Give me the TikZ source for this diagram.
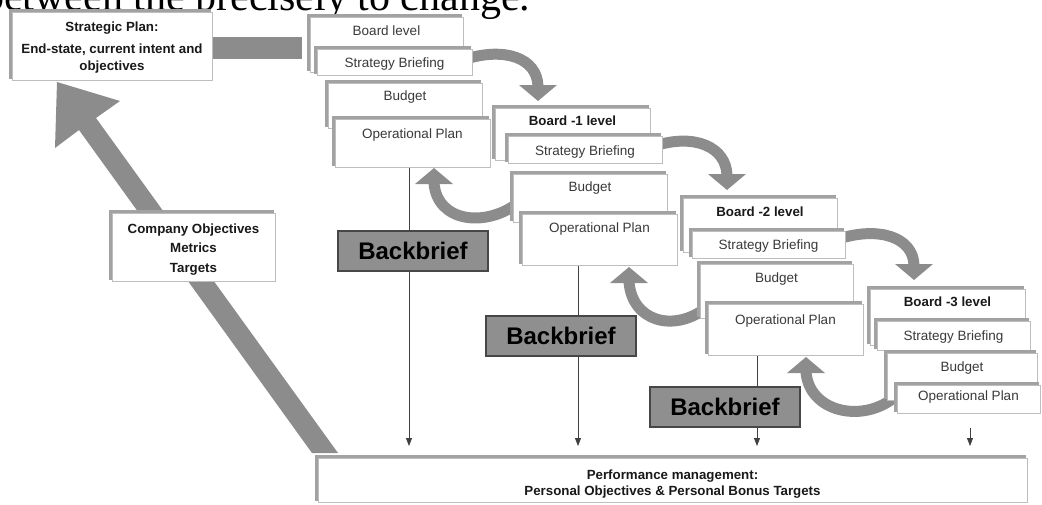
\documentclass[tikz,border=0pt]{standalone}
\usepackage{fontspec}
\setmainfont{Liberation Sans}
\newfontfamily\headserif{Liberation Serif}
\usetikzlibrary{arrows.meta,calc}
\pgfdeclarelayer{background}
\pgfsetlayers{background,main}

\definecolor{shadegray}{HTML}{A2A2A2}
\definecolor{framegray}{HTML}{BEBEBE}
\definecolor{arrowgray}{HTML}{8C8C8C}
\definecolor{briefgray}{HTML}{8F8F8F}
\definecolor{ink}{HTML}{3A3A3A}

% framed panel with a darker band on its top and left edges
% #1 name, #2 x1, #3 y1, #4 x2, #5 y2, #6 label y, #7 label style, #8 label
\newcommand\panel[8]{%
  \fill[shadegray] ({#2-3.5},{#3-3.5}) rectangle ({#4-1.5},{#5-1.5});
  \node[panelbox, minimum width={#4-#2}, minimum height={#5-#3}] (#1) at ({(#2+#4)/2},{(#3+#5)/2}) {};
  \node[#7] (#1-label) at ({(#2+#4)/2},#6) {#8};
}
% thick curved arrow running down to the next level
\newcommand\forwardarrow[2]{%
  \draw[curvebody] (#1) .. controls +(39,-12) and ($(#2)+(-1,-43)$) .. ($(#2)+(0,-15)$);
  \fill[arrowgray] ($(#2)+(-19,-16)$) -- ($(#2)+(19,-16)$) -- (#2) -- cycle;
}
% thick curved arrow turning back up to the level above
\newcommand\backarrow[2]{%
  \draw[curvebody] (#1) .. controls +(-33,25) and ($(#2)+(3,54)$) .. ($(#2)+(0,15)$);
  \fill[arrowgray] ($(#2)+(-19,16)$) -- ($(#2)+(19,16)$) -- (#2) -- cycle;
}

\begin{document}
\begin{tikzpicture}[x=1pt,y=-1pt,
  panelbox/.style={draw=framegray, line width=0.9pt, fill=white, inner sep=0pt, outer sep=0pt},
  lbl/.style={inner sep=0pt, text=ink, font=\fontsize{13.5}{16}\selectfont, text height=9.6pt, text depth=2.6pt},
  lblb/.style={lbl, font=\bfseries\fontsize{13.3}{16}\selectfont, text=black!90},
  block/.style={inner sep=0pt, align=center, text=black!90},
  brief/.style={draw=black!72, line width=1.2pt, fill=briefgray, minimum width=150pt, minimum height=40pt,
    inner sep=0pt, font=\bfseries\fontsize{24}{26}\selectfont, text=black},
  vline/.style={draw=black!75, line width=0.8pt, -{Triangle[length=8pt,width=6pt]}},
  curvebody/.style={draw=arrowgray, line width=11pt},
]
\useasboundingbox (0,0) rectangle (1042,504);

% Strategic plan
\panel{sp}{12}{12}{212}{80}{28}{lblb}{Strategic Plan:}
\node[block, font=\bfseries\fontsize{13.3}{17}\selectfont] (sp-detail) at (112,58.5) {End-state, current intent and\\objectives};

% Board level
\panel{bl0}{310}{17}{463}{72}{32}{lbl}{Board level}
\panel{sb0}{317}{49}{472}{75}{64}{lbl}{Strategy Briefing}
\panel{bu0}{328}{83}{482}{128}{97}{lbl}{Budget}
\panel{op0}{335}{119}{490}{167}{135}{lbl}{Operational Plan}

% Board -1 level
\panel{bl1}{495}{108}{650}{160}{122}{lblb}{Board -1 level}
\panel{sb1}{508}{136}{662}{163}{152}{lbl}{Strategy Briefing}
\panel{bu1}{513}{174}{667}{222}{188}{lbl}{Budget}
\panel{op1}{522}{214}{677}{265}{229}{lbl}{Operational Plan}

% Board -2 level
\panel{bl2}{683}{198}{837}{252}{213}{lblb}{Board -2 level}
\panel{sb2}{692}{231}{845}{258}{246}{lbl}{Strategy Briefing}
\panel{bu2}{700}{264}{853}{318}{279}{lbl}{Budget}
\panel{op2}{708}{304}{863}{355}{321}{lbl}{Operational Plan}

% Board -3 level
\panel{bl3}{870}{289}{1025}{345}{303}{lblb}{Board -3 level}
\panel{sb3}{877}{321}{1030}{350}{337}{lbl}{Strategy Briefing}
\panel{bu3}{887}{353}{1037}{400}{368}{lbl}{Budget}
\panel{op3}{897}{385}{1040}{413}{397}{lbl}{Operational Plan}

% company objectives and performance management
\panel{co}{112}{213}{275}{281}{249.5}{block, font=\bfseries\fontsize{13.3}{19.5}\selectfont}{Company Objectives\\Metrics\\Targets}
\panel{pm}{318}{458}{1027}{502}{484}{block, font=\bfseries\fontsize{13.3}{16}\selectfont}{Performance management:\\Personal Objectives \& Personal Bonus Targets}

% backbrief labels
\node[brief] (bb1) at (413,251) {Backbrief};
\node[brief] (bb2) at (561,336) {Backbrief};
\node[brief] (bb3) at (725,407) {Backbrief};

\begin{pgfonlayer}{background}
  % running head of the page, cut off by the top edge
  \begin{scope}
    \clip (0,0) rectangle (1042,504);
    \node[anchor=base west, inner sep=0pt, font=\headserif\fontsize{42}{44}\selectfont] (headline) at (-17,10) {between the precisely to change.};
  \end{scope}

  % wide arrow from performance management back up to the strategic plan
  \coordinate (bigtail) at ($(pm.north west)+(7,-5)$);
  \coordinate (bigtip) at ($(sp.south west)+(45,2)$);
  \fill[arrowgray] ($(bigtail)+(-13,0)$) -- ($(bigtail)+(13,0)$) -- ($(bigtip)+(39,36)$) -- ($(bigtip)+(63,19)$)
    -- (bigtip) -- ($(bigtip)+(-2,66)$) -- ($(bigtip)+(22,48)$) -- cycle;

  % bar joining the strategic plan to the board level
  \draw[arrowgray, line width=22pt] ($(sp.east)+(0,2)$) -- ($(sp.east -| bl0.west)+(-8,2)$);

  % operational plans feeding performance management
  \coordinate (v1end) at ($(pm.north west)+(91,-12)$);
  \coordinate (v2end) at ($(pm.north west)+(260,-12)$);
  \coordinate (v3end) at ($(pm.north west)+(439,-12)$);
  \coordinate (v4end) at ($(pm.north west)+(652,-12)$);
  \coordinate (v4start) at ($(v4end)+(0,-18)$);
  \draw[vline] (op0.south -| v1end) -- (v1end);
  \draw[vline] (op1.south -| v2end) -- (v2end);
  \draw[vline] (op2.south -| v3end) -- (v3end);
  \draw[vline] (v4start) -- (v4end);

  % cascade from each strategy briefing to the next level
  \coordinate (fa1s) at ($(sb0.east)+(-6,-3)$);
  \coordinate (fa1t) at ($(bl1.north west)+(43,-7)$);
  \coordinate (fa2s) at ($(sb1.east)+(-6,-4)$);
  \coordinate (fa2t) at ($(bl2.north west)+(44,-8)$);
  \coordinate (fa3s) at ($(sb2.east)+(-5,-6)$);
  \coordinate (fa3t) at ($(bl3.north west)+(44,-9)$);
  \forwardarrow{fa1s}{fa1t}
  \forwardarrow{fa2s}{fa2t}
  \forwardarrow{fa3s}{fa3t}

  % backbrief from each level to the operational plan above
  \coordinate (ba1s) at ($(bu1.west)+(5,5)$);
  \coordinate (ba1t) at ($(op0.south west)+(99,1)$);
  \coordinate (ba2s) at ($(bu2.west)+(6,17)$);
  \coordinate (ba2t) at ($(op1.south west)+(107,2)$);
  \coordinate (ba3s) at ($(bu3.west)+(6,22)$);
  \coordinate (ba3t) at ($(op2.south west)+(98,2)$);
  \backarrow{ba1s}{ba1t}
  \backarrow{ba2s}{ba2t}
  \backarrow{ba3s}{ba3t}
\end{pgfonlayer}
\end{tikzpicture}
\end{document}
